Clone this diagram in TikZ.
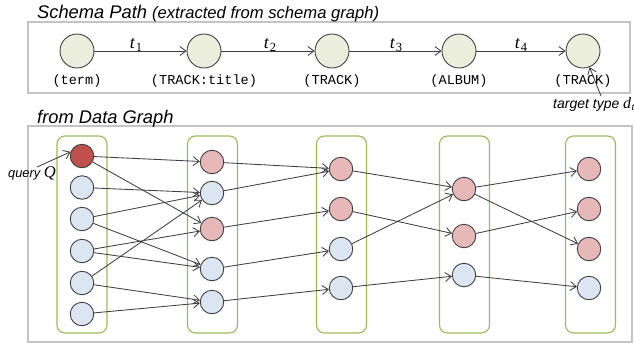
\documentclass[tikz,border=0pt]{standalone}
\usepackage{fontspec}
\setmainfont{Liberation Serif}
\setsansfont{Liberation Sans}
\setmonofont{Liberation Mono}
\usetikzlibrary{arrows.meta}

\definecolor{schemafill}{HTML}{EBEEDD}
\definecolor{qred}{HTML}{C0504D}
\definecolor{hitpink}{HTML}{E6B9B8}
\definecolor{missblue}{HTML}{DCE6F2}
\definecolor{colgreen}{HTML}{9BBB59}
\definecolor{framegray}{HTML}{C4C4C4}
\definecolor{inkgray}{HTML}{404040}

% t with an upright subscript, Times style
\newcommand{\tsub}[1]{\textit{t}\kern0.6pt\raisebox{-3.5pt}{\fontsize{12.5}{12.5}\selectfont\upshape #1}}

\begin{document}
\begin{tikzpicture}[x=1pt,y=-1pt,
  frame/.style={draw=framegray,line width=1.2pt,inner sep=0pt},
  snode/.style={circle,draw=inkgray,fill=schemafill,line width=0.9pt,minimum size=34pt,inner sep=0pt},
  dnode/.style={circle,draw=inkgray,line width=0.9pt,minimum size=23.5pt,inner sep=0pt},
  qn/.style={dnode,fill=qred},
  pk/.style={dnode,fill=hitpink},
  bl/.style={dnode,fill=missblue},
  lane/.style={draw=colgreen,line width=1.1pt,rounded corners=8pt,minimum width=50pt,minimum height=197pt,inner sep=0pt},
  link/.style={draw=inkgray,line width=0.85pt,-{Straight Barb[length=6pt,width=9pt]}},
  title/.style={font=\fontsize{18.3}{20}\selectfont\sffamily\itshape,anchor=base west,inner sep=0pt},
  typelbl/.style={font=\fontsize{13.6}{15}\selectfont\ttfamily,inner sep=0pt},
  tlbl/.style={font=\fontsize{18}{19}\selectfont,anchor=base,inner sep=0pt},
]
\useasboundingbox (0,0) rectangle (634,346);

% ---------- schema path ----------
\node[frame,minimum width=602pt,minimum height=71pt] (schemabox) at (329,57.5) {};
\node[title] (ttlschema) at (37,18) {Schema Path {\fontsize{16.6}{18}\selectfont(extracted from schema graph)}};

\node[snode] (s1) at (77,51) {};
\node[snode] (s2) at (204,51) {};
\node[snode] (s3) at (332,51) {};
\node[snode] (s4) at (459,51) {};
\node[snode] (s5) at (583,51) {};

\draw[link] (s1) -- (s2);
\draw[link] (s2) -- (s3);
\draw[link] (s3) -- (s4);
\draw[link] (s4) -- (s5);

\node[tlbl] (t1) at (136,48) {\tsub{1}};
\node[tlbl] (t2) at (270,48) {\tsub{2}};
\node[tlbl] (t3) at (396,48) {\tsub{3}};
\node[tlbl] (t4) at (521,48) {\tsub{4}};

\node[typelbl] (ty1) at (77,81) {(term)};
\node[typelbl] (ty2) at (204,81) {(TRACK:title)};
\node[typelbl] (ty3) at (332,81) {(TRACK)};
\node[typelbl] (ty4) at (459,81) {(ALBUM)};
\node[typelbl] (ty5) at (583,81) {(TRACK)};

\node[font=\fontsize{14}{15}\selectfont\sffamily\itshape,anchor=base west,inner sep=0pt] (target) at (553,108)
  {target type {\rmfamily\fontsize{16}{16}\selectfont d\kern0.3pt\raisebox{-2.5pt}{\fontsize{10.5}{10.5}\selectfont t}}};
\coordinate (targettail) at (601,96);
\draw[link] (targettail) -- (s5.-68);

% ---------- data graph ----------
\node[frame,minimum width=604pt,minimum height=216pt] (databox) at (330,234) {};
\node[title] (ttldata) at (37,123) {from Data Graph};

\node[lane] (lane1) at (82,234.5) {};
\node[lane] (lane2) at (212.5,234.5) {};
\node[lane] (lane3) at (341.5,234.5) {};
\node[lane] (lane4) at (464.5,234.5) {};
\node[lane] (lane5) at (590.5,234.5) {};

\node[qn] (a1) at (82,156) {};
\node[bl] (a2) at (82,187.5) {};
\node[bl] (a3) at (82,219) {};
\node[bl] (a4) at (82,251) {};
\node[bl] (a5) at (82,283) {};
\node[bl] (a6) at (82,314) {};

\node[pk] (b1) at (212,162) {};
\node[bl] (b2) at (212,193) {};
\node[pk] (b3) at (212,229) {};
\node[bl] (b4) at (212,269) {};
\node[bl] (b5) at (212,302) {};

\node[pk] (c1) at (341,169) {};
\node[pk] (c2) at (341,209) {};
\node[bl] (c3) at (341,249) {};
\node[bl] (c4) at (341,288) {};

\node[pk] (d1) at (464,189) {};
\node[pk] (d2) at (464,236) {};
\node[bl] (d3) at (464,275) {};

\node[pk] (e1) at (589,169) {};
\node[pk] (e2) at (589,209) {};
\node[pk] (e3) at (589,249) {};
\node[bl] (e4) at (589,288) {};

\foreach \u/\v in {a1/b1,a1/b3,a2/b2,a3/b2,a3/b4,a4/b3,a4/b4,a5/b2,a5/b5,a6/b5,
                   b1/c1,b2/c1,b3/c2,b4/c3,b5/c4,
                   c1/d1,c2/d2,c3/d1,c4/d3,
                   d1/e1,d1/e3,d2/e2,d3/e4}
  \draw[link] (\u) -- (\v);

\node[font=\fontsize{12.8}{14}\selectfont\sffamily\itshape,anchor=base west,inner sep=0pt] (query) at (8,177)
  {query {\rmfamily\fontsize{16.5}{16.5}\selectfont Q}};
\coordinate (querytail) at (37,167);
\draw[link] (querytail) -- (a1.160);
\end{tikzpicture}
\end{document}
